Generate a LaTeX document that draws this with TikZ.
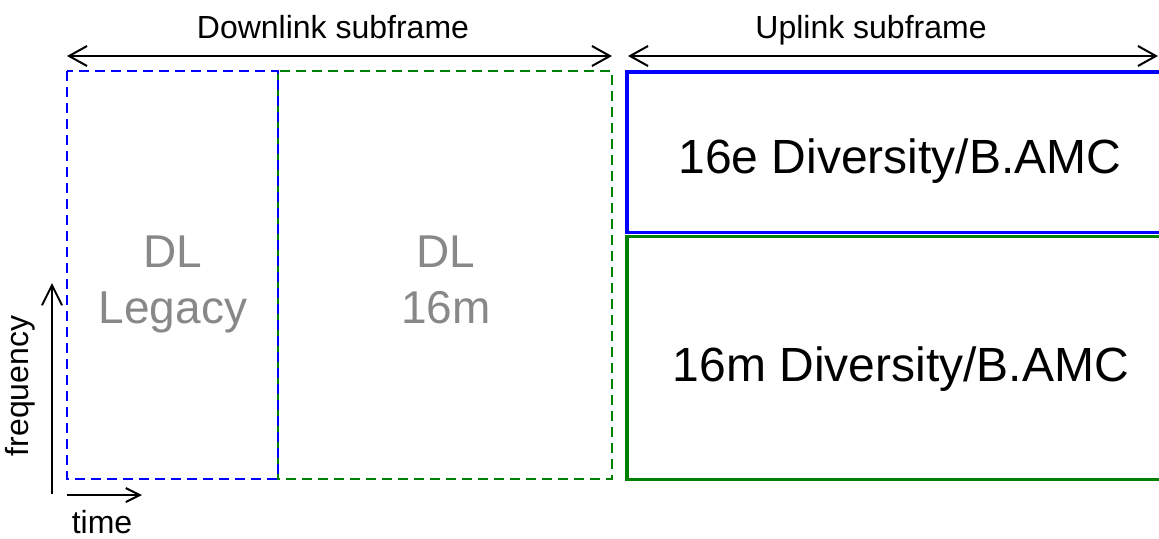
\documentclass[tikz,border=0pt]{standalone}
\usepackage{fontspec}
\setmainfont{Liberation Sans}
\usetikzlibrary{arrows.meta}
\definecolor{dlblue}{RGB}{0,0,255}
\definecolor{dlgreen}{RGB}{0,128,0}
\definecolor{dlgray}{RGB}{136,136,136}

\begin{document}
\begin{tikzpicture}[x=0.5pt,y=-0.5pt]

\tikzset{span/.style = {line width=1pt, {Straight Barb[length=9pt,width=10pt]}-{Straight Barb[length=9pt,width=10pt]}},
  dashbox/.style = {line width=1.1pt, dash pattern=on 5pt off 3pt},
  ulbox/.style = {line width=1.75pt},
  head/.style = {anchor=base, inner sep=0pt, font=\fontsize{16}{19}\selectfont},
  dltext/.style = {anchor=north, inner sep=0pt, align=center, text=dlgray, font=\fontsize{23}{28}\selectfont},
  ultext/.style = {anchor=base, inner sep=0pt, font=\fontsize{24}{29}\selectfont},
  axis/.style = {line width=1pt, -{Straight Barb[length=10pt,width=10pt]}}}

\useasboundingbox (0,0) rectangle (1159,538);
\clip (0,0) rectangle (1159,538);

\draw[dashbox, dlgreen] (278,71) rectangle (612,479);
\draw[dashbox, dlblue] (67,71) rectangle (278,479);
\draw[ulbox, dlgreen] (627,236.5) rectangle (1175,479.5);
\draw[ulbox, dlblue] (627,72) rectangle (1175,232.5);

\coordinate (dl-l) at (67,56);
\coordinate (dl-r) at (612,56);
\coordinate (ul-l) at (628,56);
\coordinate (ul-r) at (1158,56);
\draw[span] (dl-l) -- (dl-r);
\draw[span] (ul-l) -- (ul-r);
\node[head] (dl) at (333,38) {Downlink subframe};
\node[head] (ul) at (871,38) {Uplink subframe};

\node[dltext] (legacy) at (173,235) {DL\\Legacy};
\node[dltext] (adv) at (446,235) {DL\\16m};
\node[ultext] (ule) at (900,173) {16e Diversity/B.AMC};
\node[ultext] (ulm) at (901,381) {16m Diversity/B.AMC};

\coordinate (f0) at (52,494);
\coordinate (f1) at (52,283);
\coordinate (t0) at (67,495);
\coordinate (t1) at (142,495);
\draw[axis] (f0) -- (f1);
\draw[axis, -{Straight Barb[length=7pt,width=7pt]}] (t0) -- (t1);
\node[head, rotate=90] (freq) at (28,386) {frequency};
\node[head] (time) at (102,533) {time};

\end{tikzpicture}
\end{document}
